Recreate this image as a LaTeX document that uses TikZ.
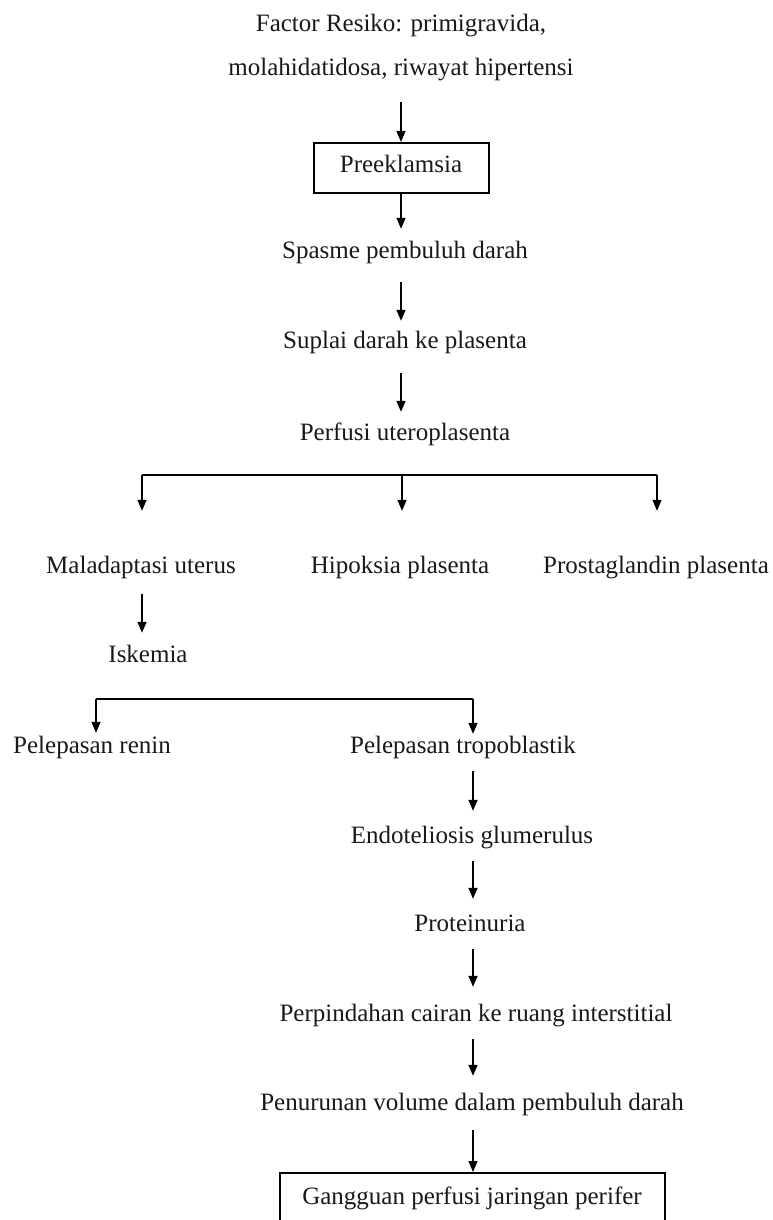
\documentclass[tikz,border=0pt]{standalone}
\usepackage{fontspec}
\setmainfont{Liberation Serif}
\usetikzlibrary{arrows.meta}
\begin{document}
\begin{tikzpicture}[x=1pt,y=-1pt,
  txt/.style={font=\fontsize{25pt}{30pt}\selectfont, inner sep=0pt, text height=17pt, text depth=5pt, anchor=base, text=black!90},
  boxnode/.style={draw, line width=2pt, font=\fontsize{25pt}{30pt}\selectfont, inner xsep=0pt, text=black!90},
  arr/.style={line width=1.4pt, -{Triangle[length=11pt,width=9pt]}},
  bus/.style={line width=2.4pt}]
\useasboundingbox (0,0) rectangle (773,1220);
\fill[white] (0,0) rectangle (773,1220);

% upper chain
\node[txt] (f1) at (401,32) {Factor Resiko: primigravida,};
\node[txt] (f2) at (401,76) {molahidatidosa, riwayat hipertensi};
\node[boxnode, minimum width=175pt, text height=17pt, text depth=9pt, inner ysep=12pt, anchor=north] (pre) at (401,142) {Preeklamsia};
\node[txt] (sp) at (405,258) {Spasme pembuluh darah};
\node[txt] (su) at (405,348) {Suplai darah ke plasenta};
\node[txt] (pu) at (405,440) {Perfusi uteroplasenta};

\draw[arr, shorten <=21pt] (f2.south -| pre.north) -- (pre.north);
\draw[arr, shorten >=12pt] (pre.south) -- (sp.north -| pre.south);
\draw[arr, shorten <=19pt, shorten >=10pt] (sp.south -| pre.south) -- (su.north -| pre.south);
\draw[arr, shorten <=20pt, shorten >=11pt] (su.south -| pre.south) -- (pu.north -| pre.south);

% first branch
\node[txt] (ma) at (141,573) {Maladaptasi uterus};
\node[txt] (hi) at (400,573) {Hipoksia plasenta};
\node[txt] (pr) at (656,573) {Prostaglandin plasenta};
\coordinate (b1L) at (142,475);
\coordinate (b1M) at (402,475);
\coordinate (b1R) at (657,475);
\draw[bus] (b1L) -- (b1R);
\draw[arr, shorten >=45pt] (b1L) -- (b1L |- ma.north);
\draw[arr, shorten >=45pt] (b1M) -- (b1M |- hi.north);
\draw[arr, shorten >=45pt] (b1R) -- (b1R |- pr.north);

\node[txt] (is) at (148,662) {Iskemia};
\draw[arr, shorten <=16pt, shorten >=12pt] (ma.south -| b1L) -- (is.north -| b1L);

% second branch
\node[txt] (re) at (92,753) {Pelepasan renin};
\node[txt] (tr) at (463,753) {Pelepasan tropoblastik};
\coordinate (b2L) at (96,699);
\coordinate (b2R) at (473,699);
\draw[bus] (b2L) -- (b2R);
\draw[arr, shorten >=3pt] (b2L) -- (b2L |- re.north);
\draw[arr, shorten >=2pt] (b2R) -- (b2R |- tr.north);

% lower chain
\node[txt] (en) at (472,843) {Endoteliosis glumerulus};
\node[txt] (pt) at (470,931) {Proteinuria};
\node[txt] (pe) at (476,1021) {Perpindahan cairan ke ruang interstitial};
\node[txt] (pn) at (472,1110) {Penurunan volume dalam pembuluh darah};
\node[boxnode, minimum width=385pt, text height=17pt, text depth=25pt, inner ysep=14pt, anchor=north] (gg) at (472,1172) {Gangguan perfusi jaringan perifer};

\draw[arr, shorten <=13pt, shorten >=15pt] (tr.south -| b2R) -- (en.north -| b2R);
\draw[arr, shorten <=13pt, shorten >=15pt] (en.south -| b2R) -- (pt.north -| b2R);
\draw[arr, shorten <=13pt, shorten >=17pt] (pt.south -| b2R) -- (pe.north -| b2R);
\draw[arr, shorten <=13pt, shorten >=17pt] (pe.south -| b2R) -- (pn.north -| b2R);
\draw[arr, shorten <=15pt] (pn.south -| b2R) -- (gg.north -| b2R);
\end{tikzpicture}
\end{document}
